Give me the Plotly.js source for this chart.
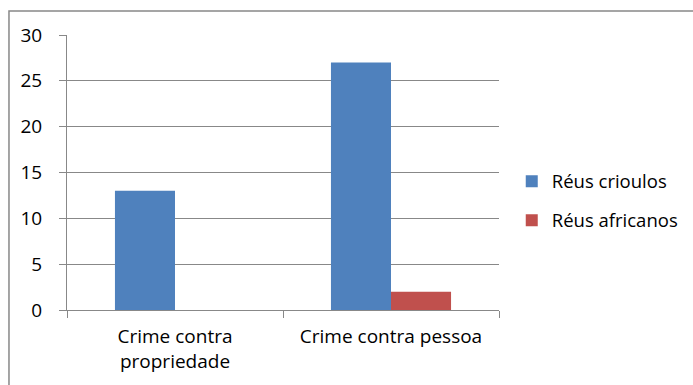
<!DOCTYPE html>
<html>
<head>
<meta charset="utf-8">
<script src="https://cdn.plot.ly/plotly-3.0.1.min.js"></script>
<style>
html,body{margin:0;padding:0;background:#fff;}
#chart{width:693px;height:385px;}
</style>
</head>
<body>
<div id="chart"></div>
<script>
const categories = ["Crime contra<br>propriedade", "Crime contra pessoa"];
const seriesNames = ["Réus crioulos", "Réus africanos"];
const crioulos = [13, 27];
const africanos = [0, 2];
const yTicks = [0, 5, 10, 15, 20, 25, 30];

const FONT = "'Open Sans', sans-serif";
const traces = [
  {type:'bar', name:seriesNames[0], x:categories, y:crioulos, marker:{color:'#4F81BD'}, legendgroup:'a'},
  {type:'bar', name:seriesNames[1], x:categories, y:africanos, marker:{color:'#C0504D'}, legendgroup:'b'}
];
const layout = {
  width:693, height:385,
  margin:{l:67, r:10, t:35, b:75},
  paper_bgcolor:'#fff', plot_bgcolor:'#fff',
  font:{family:FONT, size:19, color:'#000'},
  barmode:'group', bargap:0.444, bargroupgap:0,
  showlegend:true,
  legend:{x:0.722, y:0.396, yanchor:'middle', xanchor:'left', traceorder:'grouped', tracegroupgap:12,
          font:{family:FONT, size:18.5, color:'#000'}, bgcolor:'rgba(0,0,0,0)'},
  xaxis:{type:'category', domain:[0, 0.7013], showline:true, linecolor:'#888', linewidth:1, ticks:'outside', tickson:'boundaries',
         ticklen:7, tickcolor:'#888', showgrid:false, fixedrange:true, ticklabelstandoff:9,
         tickfont:{family:FONT, size:19}},
  yaxis:{range:[0,30], tickvals:yTicks, ticktext:yTicks.map(String), showline:true, linecolor:'#888', linewidth:1,
         ticks:'outside', ticklen:7, tickcolor:'#888', showgrid:true, gridcolor:'#888', gridwidth:1,
         zeroline:false, ticklabelstandoff:13, tickfont:{family:FONT, size:19}},
  shapes:[
    {type:'rect', xref:'paper', yref:'paper', x0:-0.0942, x1:1.2, y0:-0.4, y1:1.0873,
     line:{color:'#888', width:1.5}, fillcolor:'rgba(0,0,0,0)'}
  ]
};
Plotly.newPlot('chart', traces, layout, {displayModeBar:false, staticPlot:true});
</script>
</body>
</html>
